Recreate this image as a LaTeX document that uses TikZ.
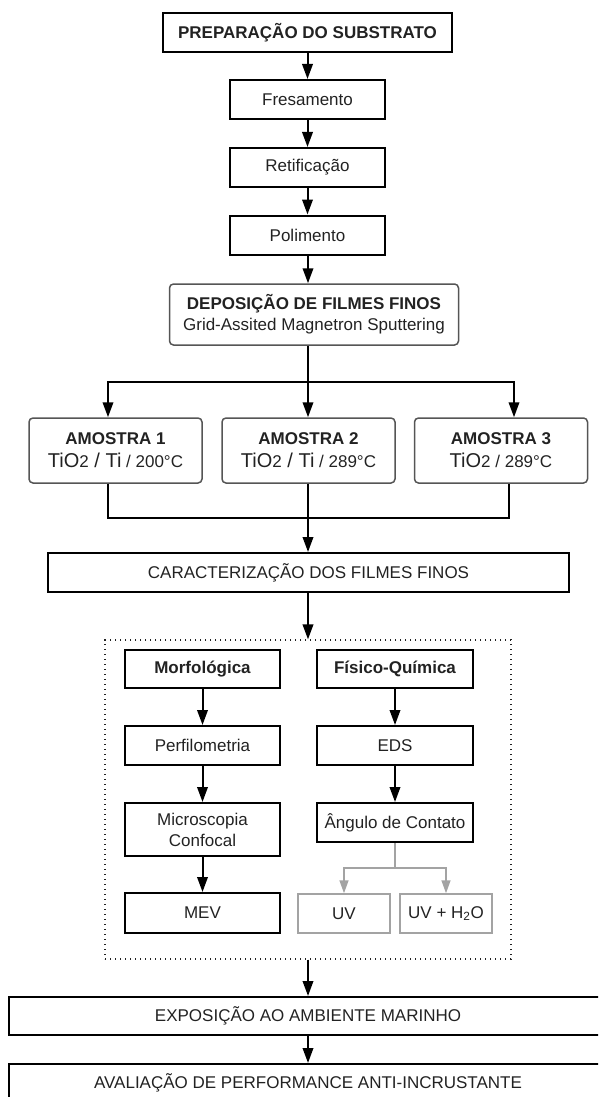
\documentclass[tikz,border=0pt]{standalone}
\usepackage{fontspec}
\setmainfont{Liberation Sans}
\usetikzlibrary{arrows.meta}

\definecolor{txt}{HTML}{222222}
\definecolor{edge}{HTML}{555555}
\definecolor{pale}{HTML}{A3A3A3}
\newcommand{\lgr}[1]{{\fontsize{20}{23}\selectfont #1}}

\begin{document}
\begin{tikzpicture}[x=1pt, y=-1pt, >={Triangle[length=15pt,width=10.5pt]},
  txtfont/.style={font=\fontsize{17}{21}\selectfont},
  box/.style={draw=black, line width=2pt, inner sep=0pt, minimum height=39pt,
    align=center, text=txt, txtfont},
  bbox/.style={box, font=\fontsize{17}{21}\selectfont\bfseries},
  rbox/.style={draw=edge, line width=1.5pt, rounded corners=4pt, inner sep=0pt,
    align=center, text=txt, txtfont},
  gbox/.style={box, draw=pale, line width=1.5pt, minimum width=92pt},
  wire/.style={line width=2pt},
  arr/.style={wire, ->},
  garr/.style={draw=pale, line width=1.5pt, ->, >={Triangle[length=13pt,width=9pt]}}]
  \useasboundingbox (0,0) rectangle (598,1097);
  \clip (0,0) rectangle (598,1097);

  % preparacao
  \node[bbox, minimum width=289pt] (prep) at (307.5,32.5) {PREPARAÇÃO DO SUBSTRATO};
  \node[box, minimum width=155pt] (fres) at (307.5,99.5) {Fresamento};
  \node[box, minimum width=155pt] (retif) at (307.5,167.5) {Retificação};
  \node[box, minimum width=155pt] (polim) at (307.5,235) {Polimento};

  % deposicao e amostras
  \node[rbox, minimum width=289pt, minimum height=61pt] (depos) at (314,314.5)
    {\textbf{DEPOSIÇÃO DE FILMES FINOS}\\Grid-Assited Magnetron Sputtering};
  \node[rbox, minimum width=173pt, minimum height=65pt, font=\fontsize{17}{23}\selectfont] (am1) at (115.5,450.5)
    {\textbf{AMOSTRA 1}\\\lgr{TiO}2\lgr{ / Ti} / 200°C};
  \node[rbox, minimum width=173pt, minimum height=65pt, font=\fontsize{17}{23}\selectfont] (am2) at (308.5,450.5)
    {\textbf{AMOSTRA 2}\\\lgr{TiO}2\lgr{ / Ti} / 289°C};
  \node[rbox, minimum width=173pt, minimum height=65pt, font=\fontsize{17}{23}\selectfont] (am3) at (501,450.5)
    {\textbf{AMOSTRA 3}\\\lgr{TiO}2 / 289°C};

  \node[box, minimum width=521pt] (carac) at (308.5,572.5) {CARACTERIZAÇÃO DOS FILMES FINOS};

  % caracterizacao
  \node[draw=txt, line width=1.2pt, dash pattern=on 1.2pt off 3.8pt, minimum width=406pt,
    minimum height=319pt, inner sep=0pt] (grp) at (308,799.5) {};
  \node[bbox, minimum width=155pt, minimum height=38pt] (morf) at (202.5,669) {Morfológica};
  \node[bbox, minimum width=156pt, minimum height=38pt] (fisq) at (395,669) {Físico-Química};
  \node[box, minimum width=155pt] (perf) at (202.5,745.5) {Perfilometria};
  \node[box, minimum width=156pt] (eds) at (395,745.5) {EDS};
  \node[box, minimum width=155pt, minimum height=53pt] (micro) at (202.5,829.5) {Microscopia\\Confocal};
  \node[box, minimum width=156pt] (ang) at (395,822.5) {Ângulo de Contato};
  \node[box, minimum width=155pt, minimum height=40pt] (mev) at (202.5,913) {MEV};
  \node[gbox] (uv) at (344,913.5) {UV};
  \node[gbox] (uvh) at (446,913.5) {UV + H\textsubscript{2}O};

  \node[box, minimum width=598pt, minimum height=38pt] (expo) at (308,1016) {EXPOSIÇÃO AO AMBIENTE MARINHO};
  \node[box, minimum width=598pt, minimum height=38pt] (aval) at (308,1083) {AVALIAÇÃO DE PERFORMANCE ANTI-INCRUSTANTE};

  \coordinate (split) at (308,382);
  \coordinate (splitL) at (108,382);
  \coordinate (splitR) at (514,382);
  \coordinate (join) at (308,518);
  \coordinate (joinL) at (108,518);
  \coordinate (joinR) at (509,518);
  \coordinate (fork) at (395,868);

  \draw[arr] (prep) -- (fres);
  \draw[arr] (fres) -- (retif);
  \draw[arr] (retif) -- (polim);
  \draw[arr] (split |- polim.south) -- (split |- depos.north);
  \draw[wire] (split |- depos.south) -- (split);
  \draw[arr] (split) -- (splitL) -- (splitL |- am1.north);
  \draw[arr] (split) -- (splitR) -- (splitR |- am3.north);
  \draw[arr] (split) -- (split |- am2.north);
  \draw[wire] (joinL |- am1.south) -- (joinL) -- (joinR) -- (joinR |- am3.south);
  \draw[arr] (join |- am2.south) -- (join |- carac.north);
  \draw[arr] (join |- carac.south) -- (join |- grp.north);

  \draw[arr] (morf) -- (perf);
  \draw[arr] (perf) -- (micro);
  \draw[arr] (micro) -- (mev);
  \draw[arr] (fisq) -- (eds);
  \draw[arr] (eds) -- (ang);
  \draw[draw=pale, line width=1.5pt] (ang) -- (fork);
  \draw[garr] (fork) -| (uv.north);
  \draw[garr] (fork) -| (uvh.north);

  \draw[arr] (join |- grp.south) -- (join |- expo.north);
  \draw[arr] (join |- expo.south) -- (join |- aval.north);
\end{tikzpicture}
\end{document}
